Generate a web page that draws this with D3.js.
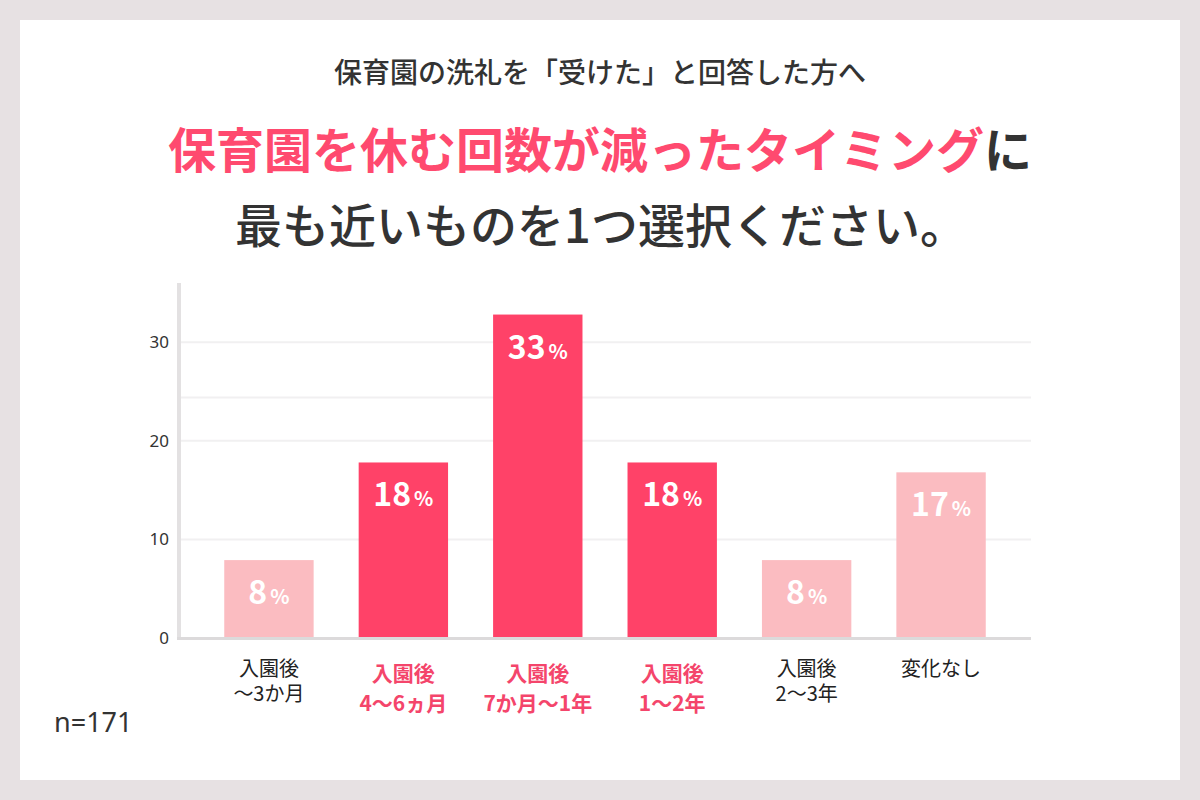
<!DOCTYPE html>
<html lang="ja">
<head>
<meta charset="utf-8">
<script src="https://cdn.jsdelivr.net/npm/d3@7"></script>
<style>
    html, body { margin: 0; padding: 0; background: #e7e1e3; }
    svg { display: block; font-family: "Noto Sans CJK JP", "Noto Sans", sans-serif; }
</style>
</head>
<body>
<svg id="chart" width="1200" height="800"></svg>
<script>
// chart data
var categories = [
    ["入園後", "〜3か月"],
    ["入園後", "4〜6ヵ月"],
    ["入園後", "7か月〜1年"],
    ["入園後", "1〜2年"],
    ["入園後", "2〜3年"],
    ["変化なし"]
];
var shares = [7.9, 17.8, 32.8, 17.8, 7.9, 16.8];
var shareLabels = ["8", "18", "33", "18", "8", "17"];
var highlighted = [false, true, true, true, false, false];
var yTicks = [0, 10, 20, 30];
var gridValues = [10, 20, 24.4, 30];
var titleLines = ["保育園の洗礼を「受けた」と回答した方へ", "保育園を休む回数が減ったタイミング", "に", "最も近いものを1つ選択ください。"];
var sampleNote = "n=171";

var PINK = "#ff4268", LIGHT = "#fbbcc1", INK = "#333333";

var svg = d3.select("#chart");

// white card on the grey page
svg.append("rect")
    .attr("x", 20).attr("y", 20)
    .attr("width", 1160).attr("height", 760)
    .attr("fill", "#ffffff");

// headings
svg.append("text")
    .attr("x", 600).attr("y", 83)
    .attr("text-anchor", "middle")
    .attr("font-size", 28).attr("font-weight", 500)
    .attr("fill", INK)
    .text(titleLines[0]);

var head = svg.append("text")
    .attr("x", 600).attr("y", 168)
    .attr("text-anchor", "middle")
    .attr("font-size", 48).attr("font-weight", 700);
head.append("tspan").attr("fill", "#ff4a6f").text(titleLines[1]);
head.append("tspan").attr("fill", INK).text(titleLines[2]);

// the trailing 。 leaves empty room on the right, so the anchor sits right of centre
svg.append("text")
    .attr("x", 601).attr("y", 243)
    .attr("text-anchor", "middle")
    .attr("font-size", 47).attr("font-weight", 500)
    .attr("fill", INK)
    .text(titleLines[3]);

// scales
var x = d3.scaleBand()
    .domain(d3.range(categories.length))
    .range([178, 1032])
    .paddingInner(0.335)
    .paddingOuter(0.344);

var y = d3.scaleLinear()
    .domain([0, 36])
    .range([638, 283]);

// grid lines
svg.append("g").selectAll("line")
    .data(gridValues)
    .join("line")
    .attr("x1", 181).attr("x2", 1031)
    .attr("y1", d => y(d)).attr("y2", d => y(d))
    .attr("stroke", "#f1f0f1").attr("stroke-width", 2);

// y axis, drawn with d3.axisLeft and restyled
var yAxis = svg.append("g")
    .attr("transform", "translate(169,0)")
    .call(d3.axisLeft(y).tickValues(yTicks).tickSize(0).tickPadding(0));
yAxis.select(".domain").remove();
yAxis.selectAll("text")
    .attr("font-family", "Noto Sans, sans-serif")
    .attr("font-size", 17)
    .attr("fill", INK);

svg.append("line")
    .attr("x1", 179).attr("x2", 179)
    .attr("y1", y(36)).attr("y2", y(0) + 1)
    .attr("stroke", "#e3e1e2").attr("stroke-width", 4);

// bars
svg.append("g").selectAll("rect")
    .data(shares)
    .join("rect")
    .attr("x", (d, i) => x(i))
    .attr("width", x.bandwidth())
    .attr("y", d => y(d))
    .attr("height", d => y(0) - y(d))
    .attr("fill", (d, i) => highlighted[i] ? PINK : LIGHT);

// baseline
svg.append("line")
    .attr("x1", 177).attr("x2", 1031)
    .attr("y1", y(0) + 0.5).attr("y2", y(0) + 0.5)
    .attr("stroke", "#dcdadb").attr("stroke-width", 3);

// value labels inside bars
var vals = svg.append("g").selectAll("text")
    .data(shares)
    .join("text")
    .attr("x", (d, i) => x(i) + x.bandwidth() / 2)
    .attr("y", d => y(d) + 44)
    .attr("text-anchor", "middle")
    .attr("fill", "#ffffff")
    .attr("font-weight", 700);
vals.append("tspan")
    .attr("font-size", 32)
    .text((d, i) => shareLabels[i]);
vals.append("tspan")
    .attr("font-size", 20)
    .attr("dx", 3)
    .text("%");

// category labels (the highlighted ones sit a little lower, with looser lines)
svg.append("g").selectAll("text")
    .data(categories)
    .join("text")
    .attr("x", (d, i) => x(i) + x.bandwidth() / 2)
    .attr("y", (d, i) => highlighted[i] ? 681 : 676)
    .attr("text-anchor", "middle")
    .attr("font-size", (d, i) => highlighted[i] ? 21 : 20)
    .attr("font-weight", (d, i) => highlighted[i] ? 700 : 400)
    .attr("fill", (d, i) => highlighted[i] ? "#f4456b" : "#222222")
    .each(function (d, i) {
        var gap = highlighted[i] ? 30 : 25;
        d3.select(this).selectAll("tspan")
            .data(d)
            .join("tspan")
            .attr("x", d3.select(this).attr("x"))
            .attr("dy", (t, j) => j ? gap : 0)
            .text(t => t);
    });

// sample size
svg.append("text")
    .attr("x", 54).attr("y", 732)
    .attr("font-family", "Noto Sans, sans-serif")
    .attr("font-size", 27)
    .attr("fill", INK)
    .text(sampleNote);
</script>
</body>
</html>
